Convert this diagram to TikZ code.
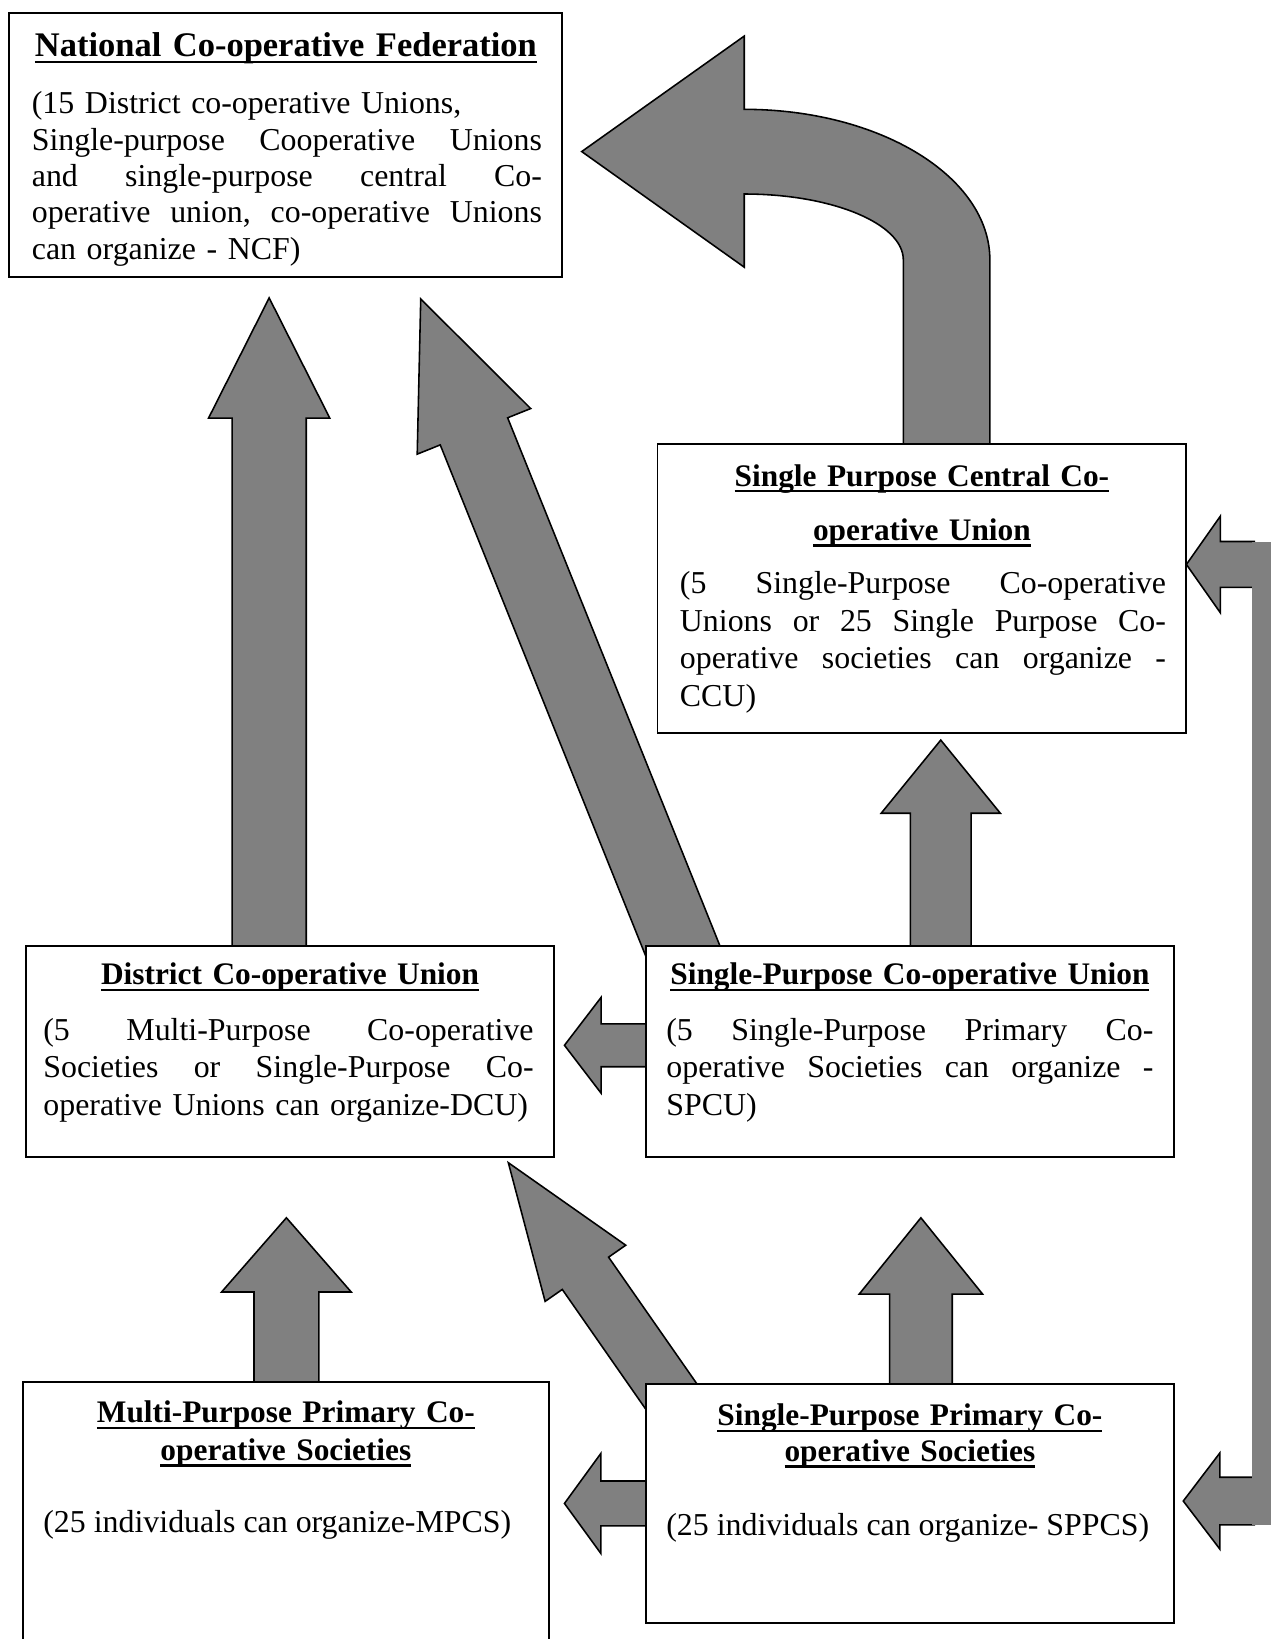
\documentclass[tikz,border=0pt]{standalone}
\usepackage{fontspec}
\setmainfont{Liberation Serif}
\usetikzlibrary{calc}
\pgfdeclarelayer{background}
\pgfsetlayers{background,main}
% justified line: width, words separated by \hfill
\newcommand\jl[2]{\leavevmode\hbox to #1{#2}\par}
\newcommand\myul[1]{\leavevmode\setbox0=\hbox{#1}\rlap{\rule[-2.4pt]{\wd0}{0.85pt}}\box0}
% block arrow: tail, tip, shaft half width, head half width, head length
\newcommand\barrow[5]{%
  \coordinate (bh) at ($(#2)!#5!(#1)$);
  \path[blk] ($(#1)!#3!90:(#2)$) -- ($(bh)!#3!90:(#2)$) -- ($(bh)!#4!90:(#2)$) -- (#2)
    -- ($(bh)!#4!-90:(#2)$) -- ($(bh)!#3!-90:(#2)$) -- ($(#1)!#3!-90:(#2)$) -- cycle;}
\begin{document}
\begin{tikzpicture}[x=0.4pt,y=-0.4pt,
  box/.style={draw, fill=white, line width=0.75pt, inner sep=0pt, outer sep=0pt, anchor=north west},
  blk/.style={draw=black, fill=gray, line width=0.6pt, line join=miter},
  ttl/.style={inner sep=0pt, anchor=base, align=center, text width=200pt, font=\bfseries\fontsize{12}{14.4}\selectfont},
  bdy/.style={inner sep=0pt, anchor=base west, font=\fontsize{12.2}{14.4}\selectfont}]
\useasboundingbox (0,0) rectangle (1215,1568);
% boxes
\node[box, minimum width=211.6pt, minimum height=101.2pt] (ncf) at (9,12) {};
\node[box, minimum width=202.4pt, minimum height=110.4pt] (ccu) at (629,425) {};
\node[box, minimum width=202pt, minimum height=80.8pt] (dcu) at (25,905) {};
\node[box, minimum width=202pt, minimum height=80.8pt] (spcu) at (618,905) {};
\node[box, minimum width=201.2pt, minimum height=110pt] (mpcs) at (22,1322) {};
\node[box, minimum width=202pt, minimum height=91.6pt] (sppcs) at (618,1324) {};
% connector end points
\coordinate (a1t) at ($(dcu.north west)+(232.5,10)$);
\coordinate (a1h) at ($(ncf.south west)+(248.5,20)$);
\coordinate (a2t) at ($(spcu.north west)+(43.4,25)$);
\coordinate (a2h) at ($(ncf.south west)+(393.5,21)$);
\coordinate (a3t) at ($(spcu.north west)+(282,10)$);
\coordinate (a3h) at ($(ccu.south west)+(271,7)$);
\coordinate (a5t) at ($(sppcs.north west)+(34,26)$);
\coordinate (a5h) at ($(dcu.south west)+(461.3,5.3)$);
\coordinate (a6t) at ($(mpcs.north west)+(252,13)$);
\coordinate (a6h) at ($(dcu.south west)+(249,58)$);
\coordinate (a7t) at ($(sppcs.north west)+(263,11)$);
\coordinate (a7h) at ($(spcu.south west)+(263,58)$);
\coordinate (a8t) at ($(spcu.north west)+(12,95)$);
\coordinate (a8h) at ($(dcu.north east)+(10,95)$);
\coordinate (a9t) at ($(sppcs.north west)+(12,114.3)$);
\coordinate (a9h) at ($(mpcs.north east)+(15,116.3)$);
\coordinate (a10t) at (1200,540);
\coordinate (a10h) at ($(ccu.north east)+(0,115)$);
\coordinate (a11t) at (1200,1436);
\coordinate (a11h) at ($(sppcs.north east)+(9,112)$);
\coordinate (c4a) at ($(ccu.north west)+(235.2,0)$);
\coordinate (c4b) at ($(ccu.north west)+(318,0)$);
\coordinate (c4tip) at ($(ncf.north east)+(18.5,133)$);
\begin{pgfonlayer}{background}
\barrow{a1t}{a1h}{14.2pt}{23.2pt}{46pt}
\barrow{a2t}{a2h}{13.9pt}{23.4pt}{54.6pt}
\barrow{a3t}{a3h}{11.6pt}{22.8pt}{28pt}
\barrow{a5t}{a5h}{10.8pt}{18.8pt}{51.6pt}
\barrow{a6t}{a6h}{12.4pt}{24.8pt}{28.4pt}
\barrow{a7t}{a7h}{12pt}{23.6pt}{29.2pt}
\barrow{a8t}{a8h}{8.2pt}{18.3pt}{14pt}
\barrow{a9t}{a9h}{8.6pt}{19.1pt}{13.9pt}
\barrow{a10t}{a10h}{8.8pt}{18.5pt}{13pt}
\barrow{a11t}{a11h}{9.1pt}{18.4pt}{14pt}
\fill[gray] (1197.8,518.2) rectangle (1220,1458.9);
\path[blk] (c4a) -- (864.2,248.7) .. controls (864.2,213.9) and (796.1,185.6) .. (712,185.6)
  -- (712,255.6) -- (c4tip) -- (712,34.5) -- (712,104.6)
  .. controls (841.8,104.6) and (947,169.1) .. (947,248.7) -- (c4b) -- cycle;
\end{pgfonlayer}
% texts
\node[ttl, font=\bfseries\fontsize{13.2}{15}\selectfont, text width=210pt] (ncfh) at (273.5,54) {\myul{National Co-operative Federation}};
\node[bdy, text width=195.2pt, font=\fontsize{12.2}{13.9}\selectfont] (ncfb) at (30,109)
  {(15 District co-operative Unions,\par
   \jl{195.2pt}{Single-purpose\hfill Cooperative\hfill Unions}%
   \jl{195.2pt}{and\hfill single-purpose\hfill central\hfill Co-}%
   \jl{195.2pt}{operative\hfill union,\hfill co-operative\hfill Unions}%
   can organize - NCF)};
\node[ttl, font=\bfseries\fontsize{12}{20.8}\selectfont] (ccuh) at (882,465) {\myul{Single Purpose Central Co-}\par\myul{operative Union}};
\node[bdy, text width=186pt] (ccub) at (650,568)
  {\jl{186pt}{(5\hfill Single-Purpose\hfill Co-operative}%
   \jl{186pt}{Unions\hfill or\hfill 25\hfill Single\hfill Purpose\hfill Co-}%
   \jl{186pt}{operative\hfill societies\hfill can\hfill organize\hfill -}%
   CCU)};
\node[ttl] (dcuh) at (277.5,942) {\myul{District Co-operative Union}};
\node[bdy, text width=187.6pt] (dcub) at (41,995)
  {\jl{187.6pt}{(5\hfill Multi-Purpose\hfill Co-operative}%
   \jl{187.6pt}{Societies\hfill or\hfill Single-Purpose\hfill Co-}%
   operative Unions can organize-DCU)};
\node[ttl] (spcuh) at (870.5,942) {\myul{Single-Purpose Co-operative Union}};
\node[bdy, text width=186.4pt] (spcub) at (637,995)
  {\jl{186.4pt}{(5\hfill Single-Purpose\hfill Primary\hfill Co-}%
   \jl{186.4pt}{operative\hfill Societies\hfill can\hfill organize\hfill -}%
   SPCU)};
\node[ttl] (mpcsh) at (273.5,1361) {\myul{Multi-Purpose Primary Co-}\par\myul{operative Societies}};
\node[bdy] (mpcsb) at (41,1466) {(25 individuals can organize-MPCS)};
\node[ttl, font=\bfseries\fontsize{12}{13.6}\selectfont] (sppcsh) at (870.5,1364) {\myul{Single-Purpose Primary Co-}\par\myul{operative Societies}};
\node[bdy] (sppcsb) at (637,1469) {(25 individuals can organize- SPPCS)};
\end{tikzpicture}
\end{document}
